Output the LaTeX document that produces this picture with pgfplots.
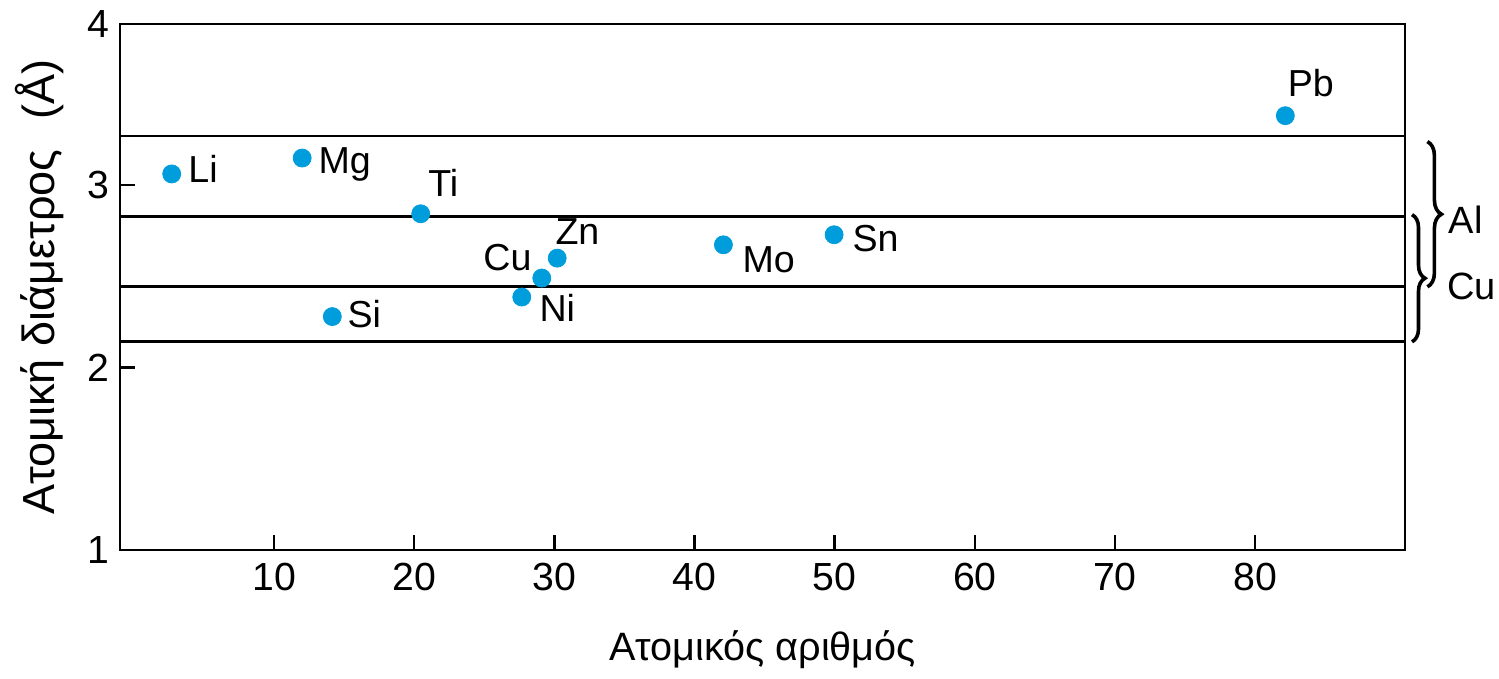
\documentclass[border=0pt]{standalone}
\usepackage{fontspec}
\setmainfont{Liberation Sans}
\usepackage{pgfplots}
\pgfplotsset{compat=1.18}
\usetikzlibrary{decorations.pathreplacing}
\definecolor{dot}{RGB}{0,157,220}

\begin{document}
\begin{tikzpicture}
\begin{axis}[
  scale only axis, width=642.5pt, height=263pt,
  xmin=-1, xmax=90.7, ymin=1, ymax=3.88,
  axis line style={line width=1.4pt},
  xtick={10,20,...,80}, ytick={1,2,3,3.88}, yticklabels={1,2,3,4},
  tick align=inside, xtick pos=bottom, ytick pos=left,
  major tick length=7.5pt, tick style={line width=1.2pt, black},
  /pgf/number format/assume math mode=true,
  ticklabel style={font=\fontsize{19.6}{23}\selectfont},
  xticklabel style={inner sep=0pt, yshift=-6.5pt},
  yticklabel style={inner sep=0pt, xshift=-5pt},
  xlabel={Ατομικός αριθμός},
  ylabel={Ατομική διάμετρος\hspace{0.67em}(Å)},
  xlabel style={font=\fontsize{19.8}{23}\selectfont, at={(axis description cs:0.5,-0.19)}, anchor=center},
  ylabel style={font=\fontsize{22.5}{26}\selectfont, at={(axis description cs:-0.0623,0.5)}, anchor=center},
  clip=false,
]
\coordinate (sw) at (rel axis cs:0,0);
\coordinate (ne) at (rel axis cs:1,1);
% horizontal reference lines (Al and Cu +-15% limits)
\addplot[black, line width=1.2pt] coordinates {(-1,3.268) (90.7,3.268)};
\addplot[black, line width=1.2pt] coordinates {(-1,2.826) (90.7,2.826)};
\addplot[black, line width=1.2pt] coordinates {(-1,2.443) (90.7,2.443)};
\addplot[black, line width=1.2pt] coordinates {(-1,2.141) (90.7,2.141)};
% data points
\addplot[only marks, mark=*, mark size=4.5pt, mark options={fill=dot, draw=dot}]
  coordinates {(2.69,3.059) (12.0,3.146) (14.15,2.278) (20.46,2.841) (30.2,2.598)
               (29.1,2.489) (27.67,2.385) (42.06,2.671) (49.96,2.726) (82.16,3.378)};
% labels
\begin{scope}[every node/.style={anchor=base west, inner sep=0pt, font=\fontsize{18.8}{22}\selectfont}]
\node at (axis cs:3.85,3.013) {Li};
\node at (axis cs:13.14,3.060) {Mg};
\node at (axis cs:15.21,2.216) {Si};
\node at (axis cs:20.98,2.934) {Ti};
\node at (axis cs:30.05,2.671) {Zn};
\node at (axis cs:24.91,2.530) {Cu};
\node at (axis cs:28.91,2.251) {Ni};
\node at (axis cs:43.40,2.519) {Mo};
\node at (axis cs:51.25,2.635) {Sn};
\node at (axis cs:82.31,3.484) {Pb};
\end{scope}
% braces
\draw[decorate, decoration={brace, amplitude=7pt}, line width=1.8pt]
  (axis cs:92.3,3.236) -- (axis cs:92.3,2.441);
\draw[decorate, decoration={brace, amplitude=6.5pt}, line width=1.8pt]
  (axis cs:91.2,2.836) -- (axis cs:91.2,2.140);
\node[anchor=west, inner sep=0pt, font=\fontsize{19}{22}\selectfont] at (axis cs:93.8,2.808) {Al};
\node[anchor=west, inner sep=0pt, font=\fontsize{19}{22}\selectfont] at (axis cs:93.7,2.441) {Cu};
\end{axis}
\pgfresetboundingbox
\useasboundingbox ([shift={(-60pt,-64.5pt)}]sw) rectangle ([shift={(47pt,12pt)}]ne);
\end{tikzpicture}
\end{document}
